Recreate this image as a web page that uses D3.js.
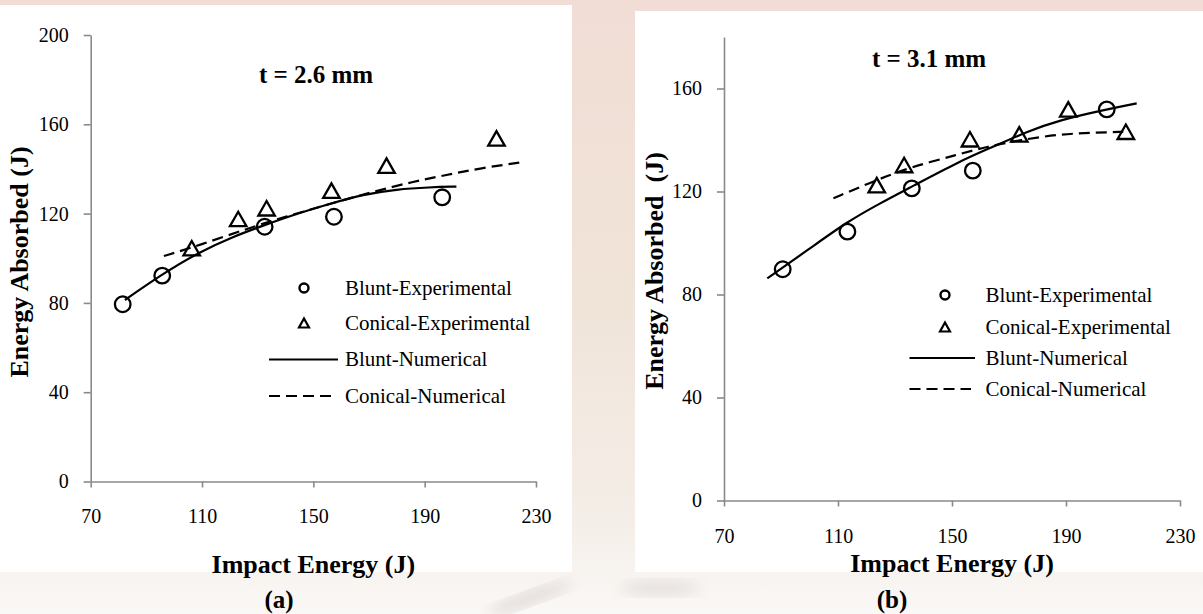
<!DOCTYPE html>
<html>
<head>
<meta charset="utf-8">
<script src="https://cdn.jsdelivr.net/npm/d3@7"></script>
<style>
  body { margin: 0; background: #f3e8e2; }
  svg { display: block; }
  text { font-family: "Times New Roman", "Liberation Serif", serif; fill: #000; }
</style>
</head>
<body>
<svg id="chart" width="1203" height="614"></svg>
<script>
// axis ticks
const xTicks = [70, 110, 150, 190, 230]
const yTicksA = [0, 40, 80, 120, 160, 200]
const yTicksB = [0, 40, 80, 120, 160]

// (a) t = 2.6 mm  -> [impact energy, energy absorbed]
const bluntExpA = [[81.5, 79.4], [95.7, 92.2], [132.5, 114.1], [157.4, 118.6], [196.3, 127.3]]
const conicalExpA = [[106.3, 104.5], [123, 117.6], [133.2, 122.4], [156.5, 130.3], [176.3, 141.5], [215.8, 153.7]]
const bluntNumA = [[82.3, 81.3], [95.7, 92.9], [109.2, 102.9], [121.2, 109.7], [132.5, 114.9], [145.2, 120.4],
  [155.9, 124.4], [167.9, 128.6], [179.9, 130.9], [191.8, 131.8], [201.4, 132.1]]
const conicalNumA = [[96.3, 101], [109.2, 105.9], [126.6, 113.4], [140, 118.6], [155, 124], [171.5, 129.8],
  [185.8, 134.3], [197.8, 137.3], [209.8, 140.3], [226, 143.2]]

// (b) t = 3.1 mm
const bluntExpB = [[90.6, 89.8], [113.3, 104.4], [135.9, 121.2], [157.3, 128.1], [204.3, 151.9]]
const conicalExpB = [[123.6, 122.5], [133.2, 130.3], [156.3, 140.3], [173.6, 142.2], [190.8, 151.9], [211, 143.2]]
const bluntNumB = [[85.2, 86.3], [100.2, 97.9], [113.3, 108.3], [124.7, 115.4], [135.9, 121.9], [152.8, 131.8],
  [164.5, 137.4], [176.2, 143.2], [187.9, 147.8], [204.3, 151.9], [214.8, 154.2]]
const conicalNumB = [[108.4, 117.4], [123.6, 124.5], [135.3, 129.4], [151.6, 134.2], [162.2, 137.4],
  [173.9, 140], [187.9, 142.3], [199.6, 142.8], [210.1, 143.2]]

const legendNames = ['Blunt-Experimental', 'Conical-Experimental', 'Blunt-Numerical', 'Conical-Numerical']

const svg = d3.select('#chart')

//faded photo behind the two panels
const defs = svg.append('defs')
const bgGrad = defs.append('linearGradient').attr('id', 'bg').attr('x1', 0).attr('y1', 0).attr('x2', 0).attr('y2', 1)
bgGrad.append('stop').attr('offset', '0%').attr('stop-color', '#f1ddd5')
bgGrad.append('stop').attr('offset', '45%').attr('stop-color', '#f0e3d7')
bgGrad.append('stop').attr('offset', '85%').attr('stop-color', '#f4eee8')
bgGrad.append('stop').attr('offset', '100%').attr('stop-color', '#faf8f6')
defs.append('filter').attr('id', 'soft').append('feGaussianBlur').attr('stdDeviation', 7)

svg.append('rect').attr('width', 1203).attr('height', 614).attr('fill', 'url(#bg)')
svg.append('ellipse').attr('cx', 530).attr('cy', 598).attr('rx', 45).attr('ry', 7)
  .attr('transform', 'rotate(-20 530 598)').attr('fill', '#e2dcda').attr('filter', 'url(#soft)')
svg.append('ellipse').attr('cx', 660).attr('cy', 588).attr('rx', 40).attr('ry', 8)
  .attr('fill', '#e6e1de').attr('filter', 'url(#soft)')

// white panels
svg.append('rect').attr('x', 0).attr('y', 5).attr('width', 572).attr('height', 567).attr('fill', '#fff')
svg.append('rect').attr('x', 635).attr('y', 11).attr('width', 568).attr('height', 561).attr('fill', '#fff')

function trianglePath(w, h) {
  return `M0,${-h / 2}L${w / 2},${h / 2}L${-w / 2},${h / 2}Z`
}

function drawPanel(cfg) {
  const x = d3.scaleLinear().domain([70, 230]).range(cfg.xRange)
  const y = d3.scaleLinear().domain(cfg.yDomain).range(cfg.yRange)

  const xAxis = svg.append('g').attr('transform', `translate(0,${cfg.yRange[0]})`)
    .call(d3.axisBottom(x).tickValues(xTicks).tickSize(6).tickSizeOuter(0).tickPadding(cfg.xPad))
  const yAxis = svg.append('g').attr('transform', `translate(${cfg.xRange[0]},0)`)
    .call(d3.axisLeft(y).tickValues(cfg.yTicks).tickSize(7).tickSizeOuter(0).tickPadding(15))

  for (const ax of [xAxis, yAxis]) {
    ax.select('.domain').attr('stroke', '#8a8a8a').attr('stroke-width', 1.6)
    ax.selectAll('.tick line').attr('stroke', '#8a8a8a').attr('stroke-width', 1.6)
    ax.selectAll('.tick text').attr('font-size', 20).attr('fill', '#111')
      .style('font-family', '"Times New Roman", "Liberation Serif", serif')
  }

  // fitted curves
  const line = d3.line().x(d => x(d[0])).y(d => y(d[1])).curve(d3.curveBasis)
  svg.append('path').attr('d', line(cfg.conicalNum)).attr('fill', 'none')
    .attr('stroke', '#000').attr('stroke-width', 2.2).attr('stroke-dasharray', '11,6')
  svg.append('path').attr('d', line(cfg.bluntNum)).attr('fill', 'none')
    .attr('stroke', '#000').attr('stroke-width', 2.2)

  // experimental points
  svg.append('g').selectAll('circle').data(cfg.bluntExp).join('circle')
    .attr('cx', d => x(d[0])).attr('cy', d => y(d[1])).attr('r', 7.8)
    .attr('fill', 'none').attr('stroke', '#000').attr('stroke-width', 2.3)
  svg.append('g').selectAll('path').data(cfg.conicalExp).join('path')
    .attr('transform', d => `translate(${x(d[0])},${y(d[1])})`)
    .attr('d', trianglePath(16.5, 14.5))
    .attr('fill', 'none').attr('stroke', '#000').attr('stroke-width', 2.3).attr('stroke-linejoin', 'miter')

  // thickness label
  svg.append('text').attr('x', cfg.title[0]).attr('y', cfg.title[1])
    .attr('text-anchor', 'middle').attr('font-size', 25).attr('font-weight', 'bold').text(cfg.titleText)

  // axis titles
  svg.append('text').attr('x', (cfg.xRange[0] + cfg.xRange[1]) / 2).attr('y', cfg.xTitleY)
    .attr('text-anchor', 'middle').attr('font-size', 26).attr('font-weight', 'bold').text('Impact Energy (J)')
  svg.append('text').attr('transform', `translate(${cfg.yTitle[0]},${cfg.yTitle[1]}) rotate(-90)`)
    .attr('text-anchor', 'middle').attr('font-size', 26).attr('font-weight', 'bold')
    .style('white-space', 'pre').text(cfg.yTitleText)
  svg.append('text').attr('x', cfg.sub[0]).attr('y', cfg.sub[1])
    .attr('text-anchor', 'middle').attr('font-size', 25).attr('font-weight', 'bold').text(cfg.subText)

  // legend
  const lg = cfg.legend
  lg.rows.forEach((ry, i) => {
    svg.append('text').attr('x', lg.textX).attr('y', ry).attr('dy', '0.33em')
      .attr('font-size', 21).text(legendNames[i])
  })
  svg.append('circle').attr('cx', lg.markX).attr('cy', lg.rows[0]).attr('r', 4.5)
    .attr('fill', 'none').attr('stroke', '#000').attr('stroke-width', 2.4)
  svg.append('path').attr('transform', `translate(${lg.markX},${lg.rows[1]})`).attr('d', trianglePath(10, 9))
    .attr('fill', 'none').attr('stroke', '#000').attr('stroke-width', 2.2)
  svg.append('line').attr('x1', lg.lineX[0]).attr('x2', lg.lineX[1]).attr('y1', lg.rows[2]).attr('y2', lg.rows[2])
    .attr('stroke', '#000').attr('stroke-width', 2.2)
  svg.append('line').attr('x1', lg.lineX[0]).attr('x2', lg.lineX[1] - 4).attr('y1', lg.rows[3]).attr('y2', lg.rows[3])
    .attr('stroke', '#000').attr('stroke-width', 2.2).attr('stroke-dasharray', '11,6')
}

drawPanel({
  xRange: [90.7, 536], yDomain: [0, 200], yRange: [481.5, 35], yTicks: yTicksA, xPad: 21,
  bluntExp: bluntExpA, conicalExp: conicalExpA, bluntNum: bluntNumA, conicalNum: conicalNumA,
  title: [316, 83], titleText: 't = 2.6 mm',
  xTitleY: 573, yTitle: [28, 262], yTitleText: 'Energy Absorbed (J)',
  sub: [279, 608], subText: '(a)',
  legend: { rows: [288, 323, 359.5, 396], markX: 304, textX: 345, lineX: [269, 338] }
})

drawPanel({
  xRange: [724, 1180], yDomain: [0, 180], yRange: [500.5, 37], yTicks: yTicksB, xPad: 22,
  bluntExp: bluntExpB, conicalExp: conicalExpB, bluntNum: bluntNumB, conicalNum: conicalNumB,
  title: [929, 67], titleText: 't = 3.1 mm',
  xTitleY: 572, yTitle: [663, 271], yTitleText: 'Energy Absorbed  (J)',
  sub: [892, 608], subText: '(b)',
  legend: { rows: [295, 327, 358, 389], markX: 945, textX: 985.5, lineX: [909.5, 975] }
})
</script>
</body>
</html>
